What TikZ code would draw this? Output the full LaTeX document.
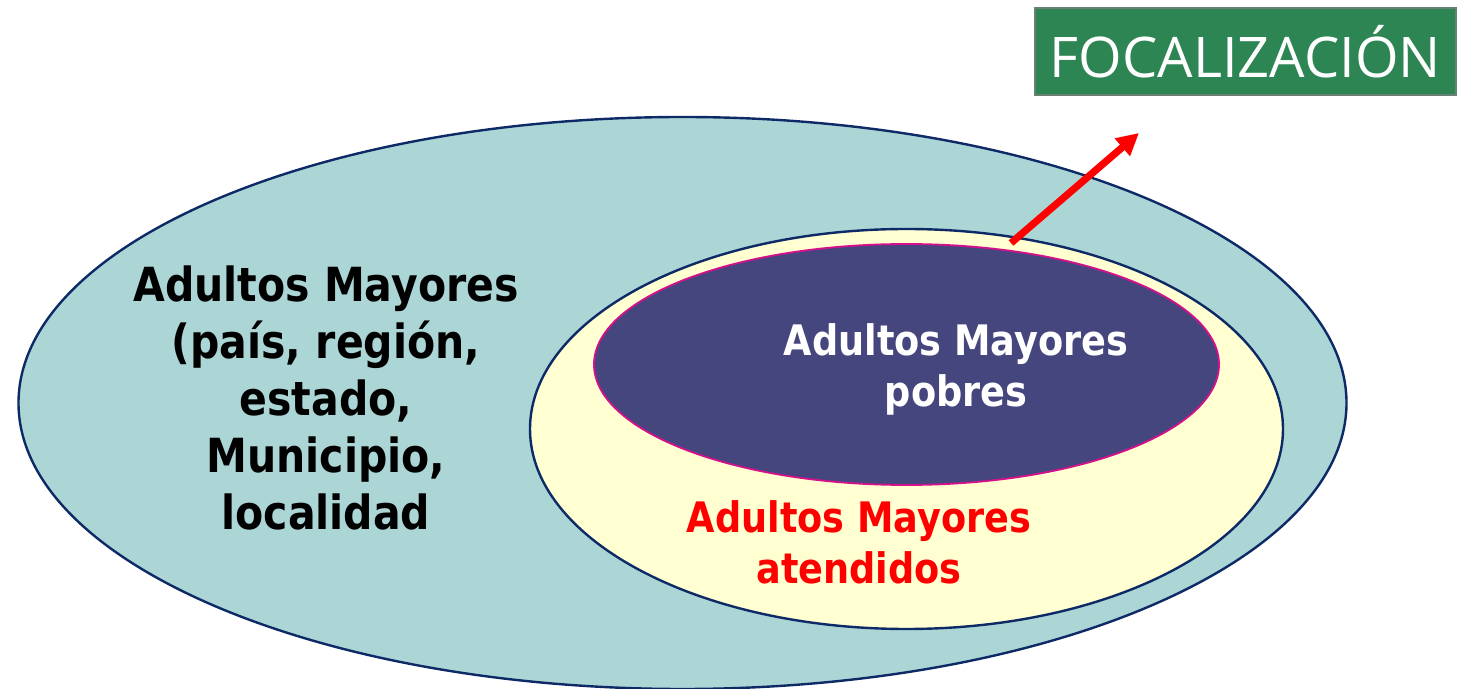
\documentclass[tikz,border=0pt]{standalone}
\usepackage{fontspec}
\setmainfont{DejaVu Sans Condensed Bold}[FakeStretch=0.97]
\newfontfamily\titlefont{Open Sans}
\usetikzlibrary{shapes.geometric,arrows.meta}
\definecolor{outerfill}{HTML}{ACD5D6}
\definecolor{navy}{HTML}{0E2A66}
\definecolor{creamfill}{HTML}{FFFFD2}
\definecolor{purplefill}{HTML}{46467E}
\definecolor{magentaline}{HTML}{D4108C}
\definecolor{greenbox}{HTML}{2E8554}
\definecolor{redtxt}{HTML}{FF0000}
\tikzset{
  oval/.style={ellipse, inner sep=0pt, line width=1.2pt},
  bigtext/.style={align=center, font=\fontsize{23.5}{28.5}\selectfont},
  midtext/.style={align=center, font=\fontsize{21}{25.5}\selectfont},
}
\begin{document}
\begin{tikzpicture}[x=0.5pt,y=-0.5pt]
\useasboundingbox (0,0) rectangle (1458,689);
\node[oval, draw=navy, fill=outerfill, minimum width=664pt, minimum height=286pt] (outer) at (682.5,403) {};
\node[oval, draw=navy, fill=creamfill, minimum width=376.5pt, minimum height=200pt] (served) at (906.5,429) {};
\node[oval, draw=magentaline, line width=0.9pt, fill=purplefill, minimum width=312.5pt, minimum height=120.5pt] (poor) at (906.5,364.5) {};
\node[bigtext, anchor=center] (tall) at (326,398) {Adultos Mayores\\(país, región,\\estado,\\Municipio,\\localidad};
\node[midtext, text=white] (tpoor) at (956,369) {Adultos Mayores\\pobres};
\node[midtext, text=redtxt] (tserved) at (859,542) {Adultos Mayores\\atendidos};
\node[draw=gray!70!greenbox, line width=0.8pt, fill=greenbox, text=white, minimum width=210.5pt, minimum height=43.5pt, inner sep=0pt, font=\titlefont\fontsize{28}{30}\selectfont] (focal) at (1245.5,51.5) {FOCALIZACIÓN};
\coordinate (astart) at (1011,243);
\coordinate (aend) at (1139,133);
\draw[redtxt, line width=3.6pt, -{Triangle[length=11pt,width=11pt]}] (astart) -- (aend);
\end{tikzpicture}
\end{document}
